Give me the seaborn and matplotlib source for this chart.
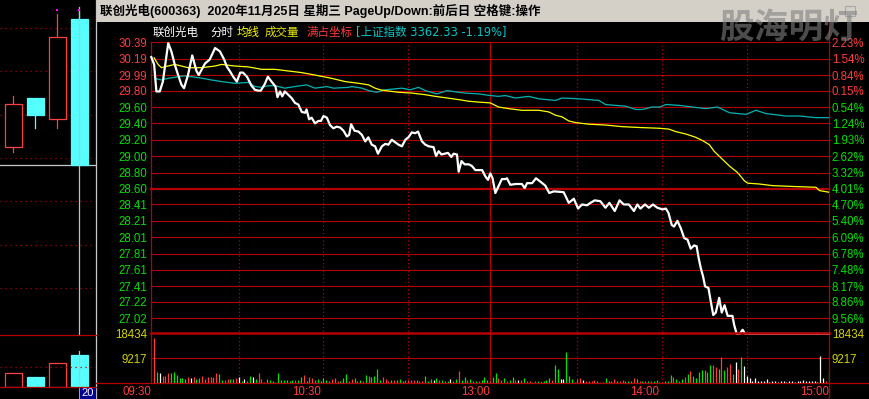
import numpy as np
import matplotlib
matplotlib.use("Agg")
import matplotlib.pyplot as plt
import seaborn as sns
from matplotlib.patches import Rectangle

# ---------------- data ----------------
price_t = [0, 1, 1.8, 3, 4.1, 6.0, 7.1, 8.3, 9.5, 10.7, 11.6, 13, 14.5, 16, 16.8, 19, 20.7, 22.6, 24.3, 25.8, 26.8,
           27.8, 29, 30.3, 31.5, 32.5, 33.9, 35.5, 36.7, 37.9, 38.8, 40.2, 41.3, 42.6, 44.0, 44.7, 45.6, 46.4, 47.3,
           48.5, 49.7, 50.9, 52.1, 53.3, 54.5, 55, 55.9, 56.8, 58, 59.2, 60.1, 61, 62.2, 63.3, 64.5, 65.7, 66.9,
           68.1, 69.3, 70.1, 70.8, 72, 73.4, 74.6, 75.8, 76.9, 78.1, 79.3, 80.3, 81.7, 82.9, 84, 85.2, 86.4, 87.6,
           88.8, 90, 91.1, 92.3, 93.5, 94.5, 95.9, 97.1, 98.3, 100, 100.9, 101.8, 102.8, 104, 105.1, 106.3, 107.1,
           108.3, 108.9, 109.9, 111, 112.5, 113.6, 114.8, 117.2, 118.4, 119.3, 120.1, 120.9, 121.9, 123, 124.2,
           125.4, 126, 127.2, 129, 131.3, 132.3, 133.1, 134.9, 136.3, 137.8, 139.6, 141, 142.6, 146.1, 147.9,
           149.7, 151.2, 152.6, 154.4, 155.6, 157.1, 159.1, 160.9, 162.3, 164.2, 165.9, 167.4, 169.2, 171, 172.2,
           173.3, 174.9, 176.3, 177.7, 179.3, 181.1, 182.3, 183.2, 184.4, 185.2, 186.4, 187.6, 188.8, 190, 191.1,
           192.3, 193.2, 193.9, 194.7, 195.5, 196.2, 197.4, 198.2, 199.1, 200, 201.2, 202.1, 203.1, 204.2, 205.9,
           206.5, 207.4, 208.5, 209.5, 210.4, 240]
price_v = [30.21, 30.12, 29.79, 29.79, 29.91, 30.38, 30.28, 30.12, 29.99, 29.87, 29.83, 29.99, 30.23, 30.04, 29.99,
           30.13, 30.18, 30.32, 30.28, 30.18, 30.09, 30.04, 29.97, 29.91, 30.02, 30.02, 29.97, 29.86, 29.81, 29.80,
           29.80, 29.88, 29.97, 29.91, 29.85, 29.72, 29.79, 29.73, 29.79, 29.75, 29.71, 29.65, 29.63, 29.54, 29.53,
           29.57, 29.45, 29.47, 29.40, 29.43, 29.43, 29.49, 29.47, 29.38, 29.34, 29.36, 29.35, 29.31, 29.24, 29.26,
           29.39, 29.31, 29.30, 29.26, 29.18, 29.23, 29.14, 29.12, 29.03, 29.12, 29.15, 29.14, 29.20, 29.17, 29.14,
           29.12, 29.20, 29.23, 29.29, 29.28, 29.30, 29.18, 29.14, 29.12, 29.11, 29.00, 29.06, 29.02, 29.03, 29.04,
           28.99, 29.03, 29.02, 28.81, 28.94, 28.90, 28.90, 28.88, 28.83, 28.83, 28.75, 28.71, 28.79, 28.73, 28.55,
           28.63, 28.72, 28.72, 28.73, 28.65, 28.66, 28.66, 28.61, 28.67, 28.67, 28.73, 28.69, 28.64, 28.55, 28.57,
           28.56, 28.43, 28.48, 28.36, 28.41, 28.40, 28.43, 28.46, 28.45, 28.37, 28.43, 28.33, 28.46, 28.41, 28.41,
           28.33, 28.41, 28.36, 28.41, 28.37, 28.41, 28.37, 28.35, 28.36, 28.31, 28.16, 28.14, 28.21, 28.12, 28.00,
           27.98, 27.87, 27.91, 27.90, 27.76, 27.63, 27.53, 27.41, 27.39, 27.23, 27.06, 27.09, 27.27, 27.09, 27.18,
           27.05, 27.05, 26.94, 26.83, 26.83, 26.88, 26.83, 26.83]

avg_t = [1, 2.4, 3.6, 5.9, 8.3, 10.7, 13, 17.8, 22.5, 24.9, 29.6, 34.3, 39.1, 43.8, 48.5, 53.3, 58, 63.9, 68.7,
         73.4, 77, 79.3, 81.1, 82.9, 87.6, 92.3, 97.1, 100.6, 104.8, 108.9, 112.5, 116, 120.1, 123, 126.6, 131.3,
         137.3, 140.8, 143.2, 145.5, 147.9, 150.3, 155, 160.9, 166.8, 172.8, 180.2, 183.4, 185.8, 189.4, 192.9,
         195.3, 197.7, 199.4, 201.8, 204.8, 207.7, 210.1, 211.3, 215.4, 220.1, 227.2, 235.5, 236.7, 240]
avg_v = [30.20, 30.12, 30.08, 30.10, 30.12, 30.10, 30.08, 30.08, 30.10, 30.12, 30.10, 30.09, 30.06, 30.06, 30.04,
         30.02, 29.99, 29.95, 29.91, 29.89, 29.87, 29.83, 29.81, 29.80, 29.78, 29.77, 29.75, 29.73, 29.71, 29.69,
         29.67, 29.66, 29.65, 29.60, 29.58, 29.56, 29.56, 29.54, 29.50, 29.48, 29.43, 29.41, 29.39, 29.38, 29.36,
         29.35, 29.34, 29.33, 29.30, 29.27, 29.23, 29.19, 29.14, 29.06, 28.98, 28.88, 28.80, 28.70, 28.67, 28.66,
         28.64, 28.63, 28.62, 28.58, 28.56]

idx_t = [1.2, 3.6, 5.9, 9.5, 11.8, 14.2, 18.3, 21.3, 24.9, 29.6, 34.3, 36.7, 39.1, 41.4, 43.8, 47.3, 50.9, 55, 58,
         62.2, 64.5, 69.9, 71, 74.6, 77, 79.9, 82.9, 88.8, 91.7, 94.7, 97.1, 101.2, 104.8, 108.9, 111.3, 116,
         120.1, 123, 125.4, 129, 133.7, 137.3, 143.2, 145.5, 151.5, 158.6, 160.9, 164.5, 168, 171.6, 174, 177.5,
         180.2, 182.3, 187, 191.7, 196.5, 200.6, 204.8, 210.7, 214.2, 217.8, 224.9, 229.6, 235.5, 240]
idx_v = [29.95, 29.93, 29.95, 29.97, 29.98, 29.97, 29.95, 29.93, 29.91, 29.89, 29.90, 29.85, 29.84, 29.86, 29.86,
         29.83, 29.85, 29.87, 29.83, 29.85, 29.83, 29.84, 29.85, 29.83, 29.80, 29.78, 29.81, 29.83, 29.81, 29.84,
         29.80, 29.76, 29.80, 29.78, 29.77, 29.76, 29.74, 29.73, 29.74, 29.71, 29.73, 29.70, 29.68, 29.71, 29.70,
         29.68, 29.63, 29.62, 29.61, 29.57, 29.57, 29.60, 29.60, 29.63, 29.62, 29.60, 29.58, 29.60, 29.53, 29.51,
         29.56, 29.52, 29.49, 29.49, 29.47, 29.47]

# minute volumes (09:31 .. 15:00) and direction r=up g=down w=flat
vol = [16700, 4200, 3800, 2700, 2700, 3800, 3800, 4200, 3000, 2000, 2000, 1700, 2200, 2000, 2200, 1700, 2000, 2700,
       1700, 2200, 2200, 2200, 3800, 3400, 1200, 1350, 1500, 1600, 1700, 2000, 2200, 740, 1600, 1000, 2700, 2200,
       1700, 3800, 1700, 500, 1600, 1200, 1000, 500, 3800, 1200, 1200, 1200, 740, 1200, 1200, 1200, 2200, 3000,
       1000, 2200, 2000, 1200, 1700,
       1000, 2000, 1200, 1000, 1500, 2000, 1000, 1000, 2000, 3400, 1000, 1700, 2000, 1000, 1200, 1000, 3000, 2700,
       2200, 2700, 5300, 1200, 2200, 1700, 740, 1200, 1200, 1200, 1700, 1000, 1200, 1200, 1200, 1200, 1200, 1000,
       740, 2700, 1000, 1700, 1200, 2000, 1200, 1200, 1000, 740, 1700, 1000, 1700, 4700, 1200, 2200, 1200, 1700,
       1000, 1000, 1000, 1200, 2200, 1200,
       1000, 2200, 3800, 2000, 1200, 2000, 1000, 1200, 2200, 1200, 1200, 1200, 2000, 1000, 1000, 500, 740, 1000,
       500, 1000, 1200, 2000, 1200, 6800, 5300, 1700, 1700, 11600, 2700, 1700, 500, 1700, 2000, 1200, 1000, 1000,
       1000, 1200, 1000, 500, 500, 2000, 1000, 1000, 1700, 740, 1000, 1200, 740, 1000, 1000, 2000, 1700, 740, 1000,
       740, 1000, 740, 1000, 1200,
       500, 500, 740, 1000, 3000, 2500, 1700, 1000, 1700, 2200, 3400, 4400, 2700, 2000, 4200, 4900, 4900, 4200,
       6800, 6800, 5900, 5300, 9600, 4900, 5900, 7100, 3400, 7900, 5300, 9600, 6300, 2700, 2000, 1000, 2000, 1000,
       740, 1000, 1700, 500, 1000, 740, 500, 1000, 1000, 500, 1000, 1000, 500, 1000, 1000, 1200, 740, 740, 1000,
       740, 500, 10100, 2000, 1000, 4400]
vol_dir = ("rgwrrrggggggrwrggrrrrrrggrrggrwgwggwgrrrgggrggggggrggrgrrg"
           "g"
           "ggggrrrgggrrgrgrgrggggrrrgrgggrrrrgrrgggwgrgggwggrggrgggrggg"
           "rggrrgrggrwrgrrgrgwgggrggwwgggrrrwrrrrgrgggrrgrrgggrgrgrgrg"
           "ggrgggrgggrgrggggrggrrgrgrrgwrgwwwwwwwwwwwwwwwwwwwwwwwwwwwww")

price_tick_labels = ["30.39", "30.19", "29.99", "29.80", "29.60", "29.40", "29.20", "29.00", "28.80",
                     "28.60", "28.41", "28.21", "28.01", "27.81", "27.61", "27.41", "27.22", "27.02"]
pct_labels = ["2.23%", "1.54%", "0.84%", "0.15%", "0.54%", "1.24%", "1.93%", "2.62%", "3.32%",
              "4.01%", "4.70%", "5.40%", "6.09%", "6.78%", "7.48%", "8.17%", "8.86%", "9.56%"]
n_up_labels = 4
price_bottom = 26.82
vol_ticks = [9217, 18434]
time_pos = [0, 60, 120, 180, 240]
time_labels = ["09:30", "10:30", "13:00", "14:00", "15:00"]

# daily candles in left panel
day_open = [27.25, 28.38, 27.90, 30.20]
day_close = [28.25, 27.99, 29.79, 26.83]
day_high = [28.43, 28.38, 30.32, 30.39]
day_low = [27.14, 27.69, 27.69, 26.83]
day_vol = [262000, 187000, 450000, 600000]

# ---------------- style ----------------
W, H = 869, 399
GRID = '#b40000'
RED_T = '#ff3c3c'
GRN_T = '#00e000'
YEL_T = '#d2d200'
CYAN_L = '#00b4b4'
CAND_R = '#ff4040'
CAND_C = '#54ffff'
FS = 8.3
bar_colors = {'r': '#ff3c3c', 'g': '#00e600', 'w': '#ffffff'}

plt.rcParams['font.family'] = ['Liberation Sans', 'Noto Sans CJK SC']
plt.rcParams['axes.unicode_minus'] = False

fig = plt.figure(figsize=(W / 100, H / 100), dpi=100, facecolor='black')


def px_axes(x0, y0, x1, y1, z=1):
    a = fig.add_axes([x0 / W, 1 - y1 / H, (x1 - x0) / W, (y1 - y0) / H], zorder=z)
    a.set_facecolor('none')
    for s in a.spines.values():
        s.set_visible(False)
    return a


# background / decorations in pixel space
bg = fig.add_axes([0, 0, 1, 1], zorder=0)
bg.set_xlim(0, W)
bg.set_ylim(H, 0)
bg.axis('off')
bg.add_patch(Rectangle((96, 0), W - 96, 22, facecolor='#d4d0c8', edgecolor='none'))
bg.add_patch(Rectangle((845, 5.5), 10, 10.5, facecolor='none', edgecolor='#a8a8a8', lw=0.8))
bg.plot([95.7, 95.7], [0, H], color='#c8c8c8', lw=0.9)
bg.plot([96, W], [383.3, 383.3], color=GRID, lw=0.9)
bg.plot([151.3, 151.3], [42.3, 383.3], color=GRID, lw=0.9)
bg.plot([828.7, 828.7], [22, H], color=GRID, lw=0.9)

bg.text(100, 11, "联创光电(600363)  2020年11月25日 星期三 PageUp/Down:前后日 空格键:操作",
        fontsize=9.0, fontweight='bold', color='black', va='center', ha='left')

hdr = [(153, "联创光电", 'white'), (210, "分时", 'white'), (237, "均线", '#ffff00'),
       (265, "成交量", '#e6e600'), (306.5, "满占坐标", RED_T)]
for x, s, c in hdr:
    bg.text(x, 32.5, s, fontsize=FS, color=c, va='center', ha='left')
bg.text(356, 32.5, "[上证指数 3362.33 -1.19%]", fontsize=FS, color='#00c8c8', va='center', ha='left',
        family=['DejaVu Sans', 'Noto Sans CJK SC'])

# ---------------- main price axes ----------------
ax = px_axes(151.3, 42.3, 828.7, 334.7, z=2)
ax.set_xlim(0, 240)
ax.set_ylim(price_bottom, 30.39)
tick_vals = [float(s) for s in price_tick_labels]
for v in tick_vals:
    ax.axhline(v, color=GRID, lw=1.6 if v == 28.60 else 0.8, clip_on=False, zorder=1)
for m in [31, 61, 91, 151, 181, 211]:
    ax.axvline(m, color=GRID, lw=0.9, ls=(0, (1, 2)), zorder=1)
ax.axvline(120, color=GRID, lw=0.9, zorder=1)

sns.lineplot(x=idx_t, y=idx_v, ax=ax, color=CYAN_L, lw=0.9, zorder=3, estimator=None)
sns.lineplot(x=avg_t, y=avg_v, ax=ax, color='#ffff00', lw=0.9, zorder=3, estimator=None)
sns.lineplot(x=price_t, y=price_v, ax=ax, color='white', lw=1.6, zorder=4, estimator=None, clip_on=False)

ax.set_yticks(tick_vals)
ax.set_yticklabels(price_tick_labels, fontsize=FS)
for i, t in enumerate(ax.get_yticklabels()):
    t.set_color(RED_T if i < n_up_labels else GRN_T)
ax.tick_params(axis='y', length=0, pad=3.0)
ax.set_xticks([])
ax.set_xlabel('')
ax.set_ylabel('')

ax2 = ax.twinx()
ax2.set_facecolor('none')
for s in ax2.spines.values():
    s.set_visible(False)
ax2.set_ylim(ax.get_ylim())
ax2.set_yticks(tick_vals)
ax2.set_yticklabels(pct_labels, fontsize=FS)
for i, t in enumerate(ax2.get_yticklabels()):
    t.set_color(RED_T if i < n_up_labels else GRN_T)
ax2.tick_params(axis='y', length=0, pad=2.2)

# ---------------- volume axes ----------------
axv = px_axes(151.3, 333.3, 828.7, 383.3, z=2)
axv.set_xlim(0, 240)
axv.set_ylim(0, vol_ticks[-1])
axv.axhline(vol_ticks[0], color=GRID, lw=0.8, zorder=1)
axv.axhline(vol_ticks[-1], color=GRID, lw=1.8, zorder=1, clip_on=False)
for m in [31, 61, 91, 151, 181, 211]:
    axv.axvline(m, color=GRID, lw=0.9, ls=(0, (1, 2)), zorder=1)
axv.axvline(120, color=GRID, lw=0.9, zorder=1)
vol_t = np.arange(1, len(vol) + 1)
axv.vlines(vol_t, 0, vol, colors=[bar_colors[c] for c in vol_dir[:len(vol)]], lw=0.9, zorder=3)
axv.set_yticks(vol_ticks)
axv.set_yticklabels([str(v) for v in vol_ticks], fontsize=FS, color=YEL_T)
axv.tick_params(axis='y', length=0, pad=3.0)
axv.set_xticks(time_pos)
axv.set_xticklabels(time_labels, fontsize=FS, color=RED_T, ha='right')
axv.tick_params(axis='x', length=0, pad=2.0)
axv2 = axv.twinx()
axv2.set_facecolor('none')
for s in axv2.spines.values():
    s.set_visible(False)
axv2.set_ylim(axv.get_ylim())
axv2.set_yticks(vol_ticks)
axv2.set_yticklabels([str(v) for v in vol_ticks], fontsize=FS, color=YEL_T)
axv2.tick_params(axis='y', length=0, pad=2.2)

# ---------------- left daily panel ----------------
cax = px_axes(0, 0, 95.5, 335, z=2)
cax.set_xlim(-0.605, 3.74)
cax.set_ylim(22.915, 30.646)
cax.set_xticks([]); cax.set_yticks([])
for p in range(24, 31):
    cax.axhline(p, color=GRID, lw=0.9, ls=(0, (1, 3)), zorder=1)
cax.axhline(day_close[-1], color='#c8c8c8', lw=0.9, zorder=2)
cax.axvline(len(day_open) - 1, ymin=0, ymax=0.979, color='#c0c0c0', lw=0.9, zorder=4)
bw = 0.77
for i in range(len(day_open)):
    o, c, hi, lo = day_open[i], day_close[i], day_high[i], day_low[i]
    top, bot = max(o, c), min(o, c)
    if c >= o:
        cax.add_patch(Rectangle((i - bw / 2, bot), bw, top - bot, facecolor='black', edgecolor=CAND_R, lw=0.9, zorder=3))
        col = CAND_R
    else:
        cax.add_patch(Rectangle((i - bw / 2, bot), bw, top - bot, facecolor=CAND_C, edgecolor=CAND_C, lw=0.9, zorder=3))
        col = CAND_C
    if hi > top:
        cax.plot([i, i], [top, hi], color=col, lw=0.9, zorder=3)
    if lo < bot:
        cax.plot([i, i], [lo, bot], color=col, lw=0.9, zorder=3)
cax.scatter([2, 3], [30.42, 30.42], marker='s', s=3, color='#ff00ff', zorder=5, linewidths=0)

cvx = px_axes(0, 335, 95.5, 387.3, z=2)
cvx.set_xlim(-0.605, 3.74)
cvx.set_ylim(0, 975000)
cvx.set_xticks([]); cvx.set_yticks([])
cvx.axhline(975000, color=GRID, lw=0.9, clip_on=False)
cvx.axhline(0, color=GRID, lw=0.9, clip_on=False)
cvx.axhline(380000, color=GRID, lw=0.9, ls=(0, (1, 3)))
for i, v in enumerate(day_vol):
    up = day_close[i] >= day_open[i]
    cvx.add_patch(Rectangle((i - bw / 2, 0), bw, v,
                            facecolor='black' if up else CAND_C,
                            edgecolor=CAND_R if up else CAND_C, lw=0.9))
cvx.axvline(len(day_open) - 1, ymin=0, ymax=0.69, color='#c0c0c0', lw=0.9, zorder=4)

bg.add_patch(Rectangle((79.3, 387.3), 16.2, 11.7, facecolor='#000090', edgecolor='#c0c0c0', lw=0.6, zorder=5))
bg.text(87.5, 393.5, "20", fontsize=8, color='white', ha='center', va='center', zorder=6)

# watermark
fig.text(719 / W, 1 - 27 / H, "股海明灯", fontsize=25, fontweight='bold', color=(0.5, 0.5, 0.5),
         alpha=0.6, ha='left', va='center', family=['Noto Sans CJK SC'], zorder=20)

fig.savefig("out.png", dpi=100, facecolor='black')
